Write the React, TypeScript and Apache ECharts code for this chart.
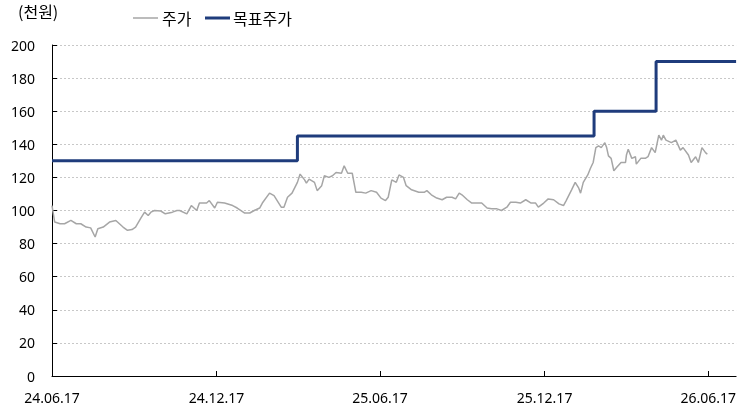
import React, { useEffect, useRef } from "react";
import * as echarts from "echarts";

// x = days since 2024-06-17
const xTickDays = [0, 183, 365, 548, 730];
const xTickLabels = ["24.06.17", "24.12.17", "25.06.17", "25.12.17", "26.06.17"];
const xMaxDay = 761;

const priceDays = [
  0, 3, 9, 14, 21, 27, 32, 38, 43, 48, 51, 57, 64, 71, 75, 79, 84, 89, 93, 99,
  103, 107, 110, 114, 121, 126, 134, 139, 142, 150, 155, 161, 164, 172, 175, 181, 184, 192, 201, 206,
  214, 220, 225, 231, 234, 242, 247, 255, 258, 262, 267, 273, 276, 281, 283, 286, 292, 295, 300, 303,
  308, 312, 316, 322, 325, 329, 334, 338, 344, 349, 355, 361, 366, 371, 374, 378, 383, 386, 391, 394,
  400, 408, 414, 417, 422, 428, 434, 439, 445, 449, 453, 456, 462, 467, 473, 478, 484, 489, 495, 500,
  506, 510, 516, 521, 527, 533, 538, 541, 547, 552, 558, 564, 569, 572, 578, 582, 586, 588, 591, 596,
  599, 602, 605, 608, 611, 615, 617, 619, 622, 625, 628, 633, 638, 639, 641, 645, 649, 650, 655, 660,
  663, 667, 671, 675, 678, 680, 683, 689, 694, 699, 702, 708, 711, 716, 719, 723, 727, 729,
];
const priceValues = [
  103, 93, 92, 92, 94, 92, 92, 90, 89.5, 84, 89, 90, 93, 94, 92, 90, 88, 88.5, 90, 95.5,
  99, 97, 99, 100, 99.7, 98, 99, 100, 100, 98, 103, 100, 104.5, 104.5, 106, 101.5, 105, 104.5, 103, 101.5,
  98.5, 98.5, 100, 101.5, 104.5, 110.5, 109, 102, 102, 108, 110.5, 117, 122, 118.5, 116.5, 119, 117, 112, 115, 121,
  120, 121, 123, 122.5, 127, 122.5, 122.5, 111, 111, 110.5, 112, 111, 107.5, 106, 108, 118.5, 117, 121.5, 120, 115,
  112.5, 111, 111, 112, 109.5, 107.5, 106.5, 108, 108, 107, 110.5, 109.5, 106.5, 104.5, 104.5, 104.5, 101.5, 101, 101, 100,
  102, 105, 105, 104.5, 106.5, 104.5, 104.5, 102, 104.5, 107, 106.5, 104, 103, 106, 112.5, 117, 113.5, 110.5, 117, 121.5,
  125.5, 129, 138, 139, 138, 141, 138, 133, 131.5, 124, 126, 129, 129, 133.5, 137, 131.5, 132.5, 128, 131.5, 131.5,
  132.5, 138, 135, 145.5, 142.5, 145.5, 142.5, 141, 142.5, 136.5, 138, 133.5, 129, 132.5, 129, 138, 135, 134,
];

const targetDays = [0, 273, 603, 672, 761];
const targetValues = [130, 145, 160, 190, 190];

const yTicks = { min: 0, max: 200, interval: 20 };
const unitLabel = "(천원)";
const seriesNames = ["주가", "목표주가"];
const priceColor = "#a6a6a6";
const targetColor = "#1f3c7c";

export default function App() {
  const ref = useRef<HTMLDivElement>(null);
  useEffect(() => {
    if (!ref.current) return;
    const chart = echarts.init(ref.current, null, { renderer: "svg" });
    const font = "'Noto Sans', 'Noto Sans CJK KR', sans-serif";
    const krFont = "'Noto Sans CJK KR', sans-serif";
    chart.setOption({
      animation: false,
      textStyle: { fontFamily: font },
      grid: { left: 52, right: 1, top: 45, bottom: 35, containLabel: false },
      graphic: [
        {
          type: "text",
          left: 18,
          top: 3,
          style: { text: unitLabel, fontSize: 16, fill: "#000", fontFamily: krFont },
        },
        {
          type: "line",
          shape: { x1: 133, y1: 18, x2: 158, y2: 18 },
          style: { stroke: priceColor, lineWidth: 1.5 },
        },
        {
          type: "text",
          x: 162,
          y: 18,
          style: { text: seriesNames[0], fontSize: 16, fill: "#000", fontFamily: krFont, verticalAlign: "middle" },
        },
        {
          type: "line",
          shape: { x1: 205, y1: 18, x2: 230, y2: 18 },
          style: { stroke: targetColor, lineWidth: 3 },
        },
        {
          type: "text",
          x: 233,
          y: 18,
          style: { text: seriesNames[1], fontSize: 16, fill: "#000", fontFamily: krFont, verticalAlign: "middle" },
        },
      ],
      xAxis: {
        type: "value",
        min: 0,
        max: xMaxDay,
        axisLine: { lineStyle: { color: "#000", width: 1 } },
        axisTick: { show: true, inside: true, length: 5, customValues: xTickDays, lineStyle: { color: "#000" } },
        axisLabel: {
          customValues: xTickDays,
          color: "#000",
          fontSize: 14,
          margin: 14,
          formatter: (v: number) => {
            const i = xTickDays.indexOf(Math.round(v));
            return i >= 0 ? xTickLabels[i] : "";
          },
        },
        splitLine: { show: false },
      },
      yAxis: {
        type: "value",
        min: yTicks.min,
        max: yTicks.max,
        interval: yTicks.interval,
        axisLine: { show: true, lineStyle: { color: "#000", width: 1 } },
        axisTick: { show: true, inside: true, length: 5, lineStyle: { color: "#000" } },
        axisLabel: { color: "#000", fontSize: 14, margin: 17 },
        splitLine: { show: true, lineStyle: { color: "#c8c8c8", type: [2, 2], width: 1 } },
      },
      series: [
        {
          name: seriesNames[0],
          type: "line",
          data: priceDays.map((d, i) => [d, priceValues[i]]),
          showSymbol: false,
          symbol: "none",
          lineStyle: { color: priceColor, width: 1.5 },
          itemStyle: { color: priceColor },
          z: 2,
        },
        {
          name: seriesNames[1],
          type: "line",
          step: "end",
          data: targetDays.map((d, i) => [d, targetValues[i]]),
          showSymbol: false,
          symbol: "none",
          lineStyle: { color: targetColor, width: 3 },
          itemStyle: { color: targetColor },
          z: 3,
        },
      ],
    });
    return () => chart.dispose();
  }, []);
  return <div ref={ref} style={{ position: "fixed", left: 0, top: 0, width: 739, height: 411 }} />;
}
